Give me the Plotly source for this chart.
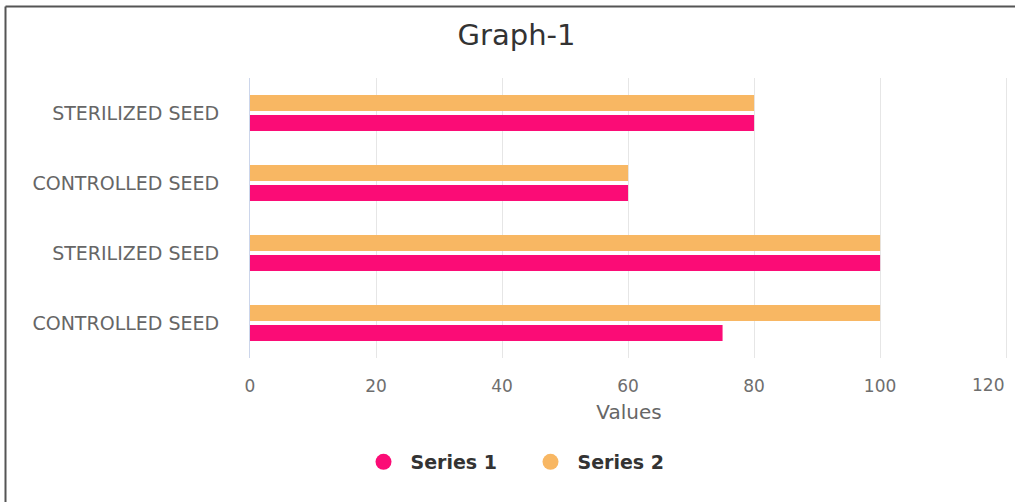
import plotly.graph_objects as go

# Categories listed bottom to top, as they appear on the vertical axis
categories = ["CONTROLLED SEED", "STERILIZED SEED", "CONTROLLED SEED", "STERILIZED SEED"]
series1 = [75, 100, 60, 80]
series2 = [100, 100, 60, 80]
series_names = ["Series 1", "Series 2"]
x_ticks = [0, 20, 40, 60, 80, 100, 120]

PINK = "#FB0C76"
ORANGE = "#F8B763"
FONT = "DejaVu Sans, Verdana, sans-serif"
positions = list(range(len(categories)))

fig = go.Figure()
for name, vals, col in [(series_names[0], series1, PINK), (series_names[1], series2, ORANGE)]:
    fig.add_trace(go.Bar(
        y=positions, x=vals, orientation="h", name=name,
        marker=dict(color=col, line=dict(width=0)),
        showlegend=False,
    ))
    # round legend markers
    fig.add_trace(go.Scatter(
        x=[None], y=[None], mode="markers", name=name,
        marker=dict(color=col, size=20, symbol="circle"),
        showlegend=True,
    ))

L, R, T, B = 250, 8, 78, 144
W, H = 1016, 502
pw, ph = W - L - R, H - T - B

# the last tick label sits flush against the right edge, ending at its gridline
last = x_ticks[-1]
tick_text = [str(v) if v != last else "" for v in x_ticks]

fig.update_layout(
    width=W, height=H,
    margin=dict(l=L, r=R, t=T, b=B),
    paper_bgcolor="white", plot_bgcolor="white",
    barmode="group", bargap=0.43, bargroupgap=0.2,
    font=dict(family=FONT, color="#666666"),
    title=dict(
        text="Graph-1",
        font=dict(size=29, color="#333333", family=FONT),
        xref="paper", x=(516.5 - L) / pw, xanchor="center",
        yref="container", y=1 - 35 / H, yanchor="middle",
    ),
    xaxis=dict(
        range=[0, 120.3], tickvals=x_ticks, ticktext=tick_text,
        showgrid=True, gridcolor="#E6E6E6", gridwidth=1,
        zeroline=False, showline=False,
        tickfont=dict(size=17, color="#6E6E6E", family=FONT),
        title=dict(text="Values", font=dict(size=20, color="#666666", family=FONT), standoff=9),
        ticks="", ticklabelstandoff=16,
    ),
    yaxis=dict(
        range=[-0.5, len(categories) - 0.5],
        tickvals=positions, ticktext=categories,
        showgrid=False, zeroline=False,
        showline=True, linecolor="#CCD6EB", linewidth=1,
        tickfont=dict(size=19, color="#666666", family=FONT),
        ticks="", ticklabelstandoff=26,
    ),
    legend=dict(
        orientation="h", xref="paper", x=(523.5 - L) / pw, xanchor="center",
        yref="container", y=1 - 462 / H, yanchor="middle",
        font=dict(size=19, color="#333333", family=FONT, weight="bold"),
        itemsizing="trace", itemwidth=44, entrywidth=108,
    ),
    annotations=[
        dict(text=str(last), x=last, xref="x", xanchor="right",
             y=(H - B - 385) / ph, yref="paper", yanchor="middle",
             showarrow=False, font=dict(size=17, color="#6E6E6E", family=FONT)),
    ],
    shapes=[
        # frame lines along the left and top edges
        dict(type="line", xref="paper", yref="paper",
             x0=(5.5 - L) / pw, x1=(5.5 - L) / pw, y0=(H - B - 6.5) / ph, y1=(H - B - H) / ph,
             line=dict(color="#555555", width=2)),
        dict(type="line", xref="paper", yref="paper",
             x0=(5.5 - L) / pw, x1=(W - 1 - L) / pw, y0=(H - B - 6.5) / ph, y1=(H - B - 6.5) / ph,
             line=dict(color="#555555", width=2)),
    ],
)

fig.write_html("out.html")
